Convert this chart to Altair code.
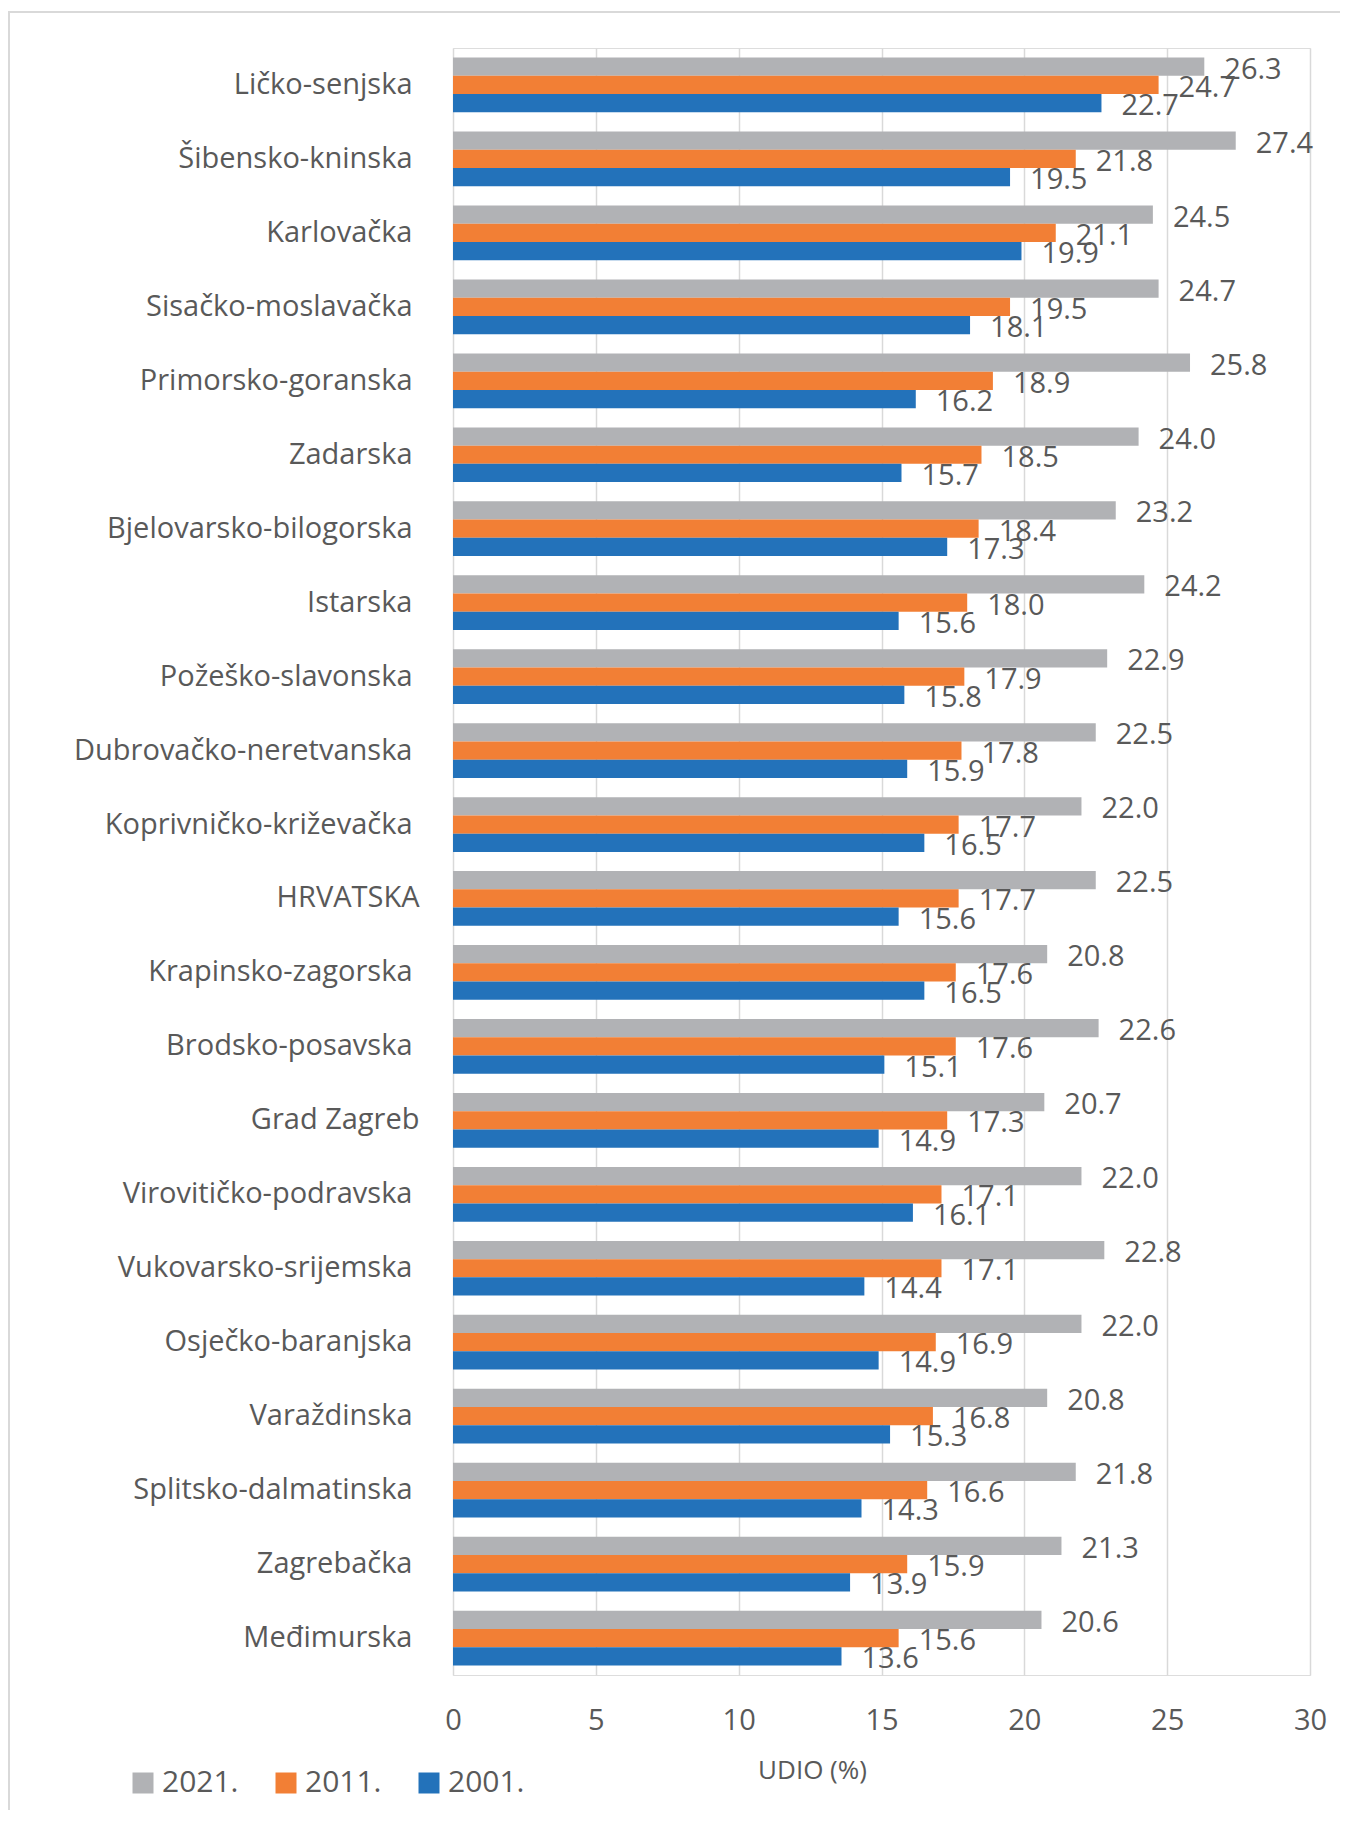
import altair as alt
import pandas as pd

regions = [
    "Ličko-senjska", "Šibensko-kninska", "Karlovačka", "Sisačko-moslavačka",
    "Primorsko-goranska", "Zadarska", "Bjelovarsko-bilogorska", "Istarska",
    "Požeško-slavonska", "Dubrovačko-neretvanska", "Koprivničko-križevačka",
    "HRVATSKA", "Krapinsko-zagorska", "Brodsko-posavska", "Grad Zagreb",
    "Virovitičko-podravska", "Vukovarsko-srijemska", "Osječko-baranjska",
    "Varaždinska", "Splitsko-dalmatinska", "Zagrebačka", "Međimurska",
]
years = ["2021.", "2011.", "2001."]
v2021 = [26.3, 27.4, 24.5, 24.7, 25.8, 24.0, 23.2, 24.2, 22.9, 22.5, 22.0,
         22.5, 20.8, 22.6, 20.7, 22.0, 22.8, 22.0, 20.8, 21.8, 21.3, 20.6]
v2011 = [24.7, 21.8, 21.1, 19.5, 18.9, 18.5, 18.4, 18.0, 17.9, 17.8, 17.7,
         17.7, 17.6, 17.6, 17.3, 17.1, 17.1, 16.9, 16.8, 16.6, 15.9, 15.6]
v2001 = [22.7, 19.5, 19.9, 18.1, 16.2, 15.7, 17.3, 15.6, 15.8, 15.9, 16.5,
         15.6, 16.5, 15.1, 14.9, 16.1, 14.4, 14.9, 15.3, 14.3, 13.9, 13.6]
colors = ["#B1B2B5", "#F27F35", "#2372BA"]
x_ticks = [0, 5, 10, 15, 20, 25, 30]

rows = []
for i, r in enumerate(regions):
    for y, vals in zip(years, [v2021, v2011, v2001]):
        rows.append({"region": r, "year": y, "value": vals[i]})
df = pd.DataFrame(rows)

FONT = "Open Sans"
TXT = "#595959"

y_enc = alt.Y(
    "region:N", sort=regions,
    scale=alt.Scale(paddingInner=0.26, paddingOuter=0.13),
    axis=alt.Axis(title=None, domain=False, ticks=False, tickSize=0,
                  labelFontSize=29, labelColor=TXT,
                  labelPadding={"condition": {"test": "datum.value == 'HRVATSKA' || datum.value == 'Grad Zagreb'",
                                              "value": 34}, "value": 41},
                  labelFont=FONT, labelLimit=500),
)
yoff = alt.YOffset("year:N", sort=years, scale=alt.Scale(paddingInner=0, paddingOuter=0))
x_enc = alt.X(
    "value:Q",
    scale=alt.Scale(domain=[0, 30], nice=False),
    axis=alt.Axis(values=x_ticks, title="UDIO (%)", domain=False, ticks=False, tickSize=0,
                  grid=True, gridColor="#D9D9D9", gridWidth=1.5, labelFlush=False,
                  labelFontSize=29, labelColor=TXT, labelFont=FONT,
                  labelPadding=45, labelBaseline="middle",
                  titleFontSize=26, titleFontWeight="normal", titleColor=TXT, titleFont=FONT,
                  titleX=359, titleY=95, titleBaseline="middle", titleAlign="center"),
)
color_enc = alt.Color(
    "year:N", sort=years,
    scale=alt.Scale(domain=years, range=colors),
    legend=alt.Legend(title=None, orient="none", legendX=-325, legendY=1720,
                      direction="horizontal", columns=3, columnPadding=32,
                      symbolType="square", symbolSize=441, symbolStrokeWidth=0,
                      symbolOpacity=1, labelFontSize=30, labelColor=TXT, labelFont=FONT,
                      labelOffset=4, padding=0),
)

bars = alt.Chart(df).mark_bar().encode(x=x_enc, y=y_enc, yOffset=yoff, color=color_enc)

labels = alt.Chart(df).mark_text(
    align="left", baseline="middle", dx=20, dy=3, fontSize=29, color=TXT, font=FONT
).encode(
    x="value:Q", y=alt.Y("region:N", sort=regions), yOffset=yoff,
    text=alt.Text("value:Q", format=".1f"),
)

frame = alt.Chart(pd.DataFrame({"a": [0]})).mark_rect(
    filled=False, stroke="#D9D9D9", strokeWidth=2
).encode(x=alt.value(-444), x2=alt.value(2000), y=alt.value(-36), y2=alt.value(3000))

chart = alt.layer(frame, bars, labels).properties(
    width=857, height=1627,
    autosize=alt.AutoSizeParams(type="none"),
    padding={"left": 445, "top": 40, "right": 30, "bottom": 135},
    background="white",
).configure_view(stroke=None).configure(font=FONT)

chart.save("out.html", embed_options={"renderer": "svg", "actions": False})
